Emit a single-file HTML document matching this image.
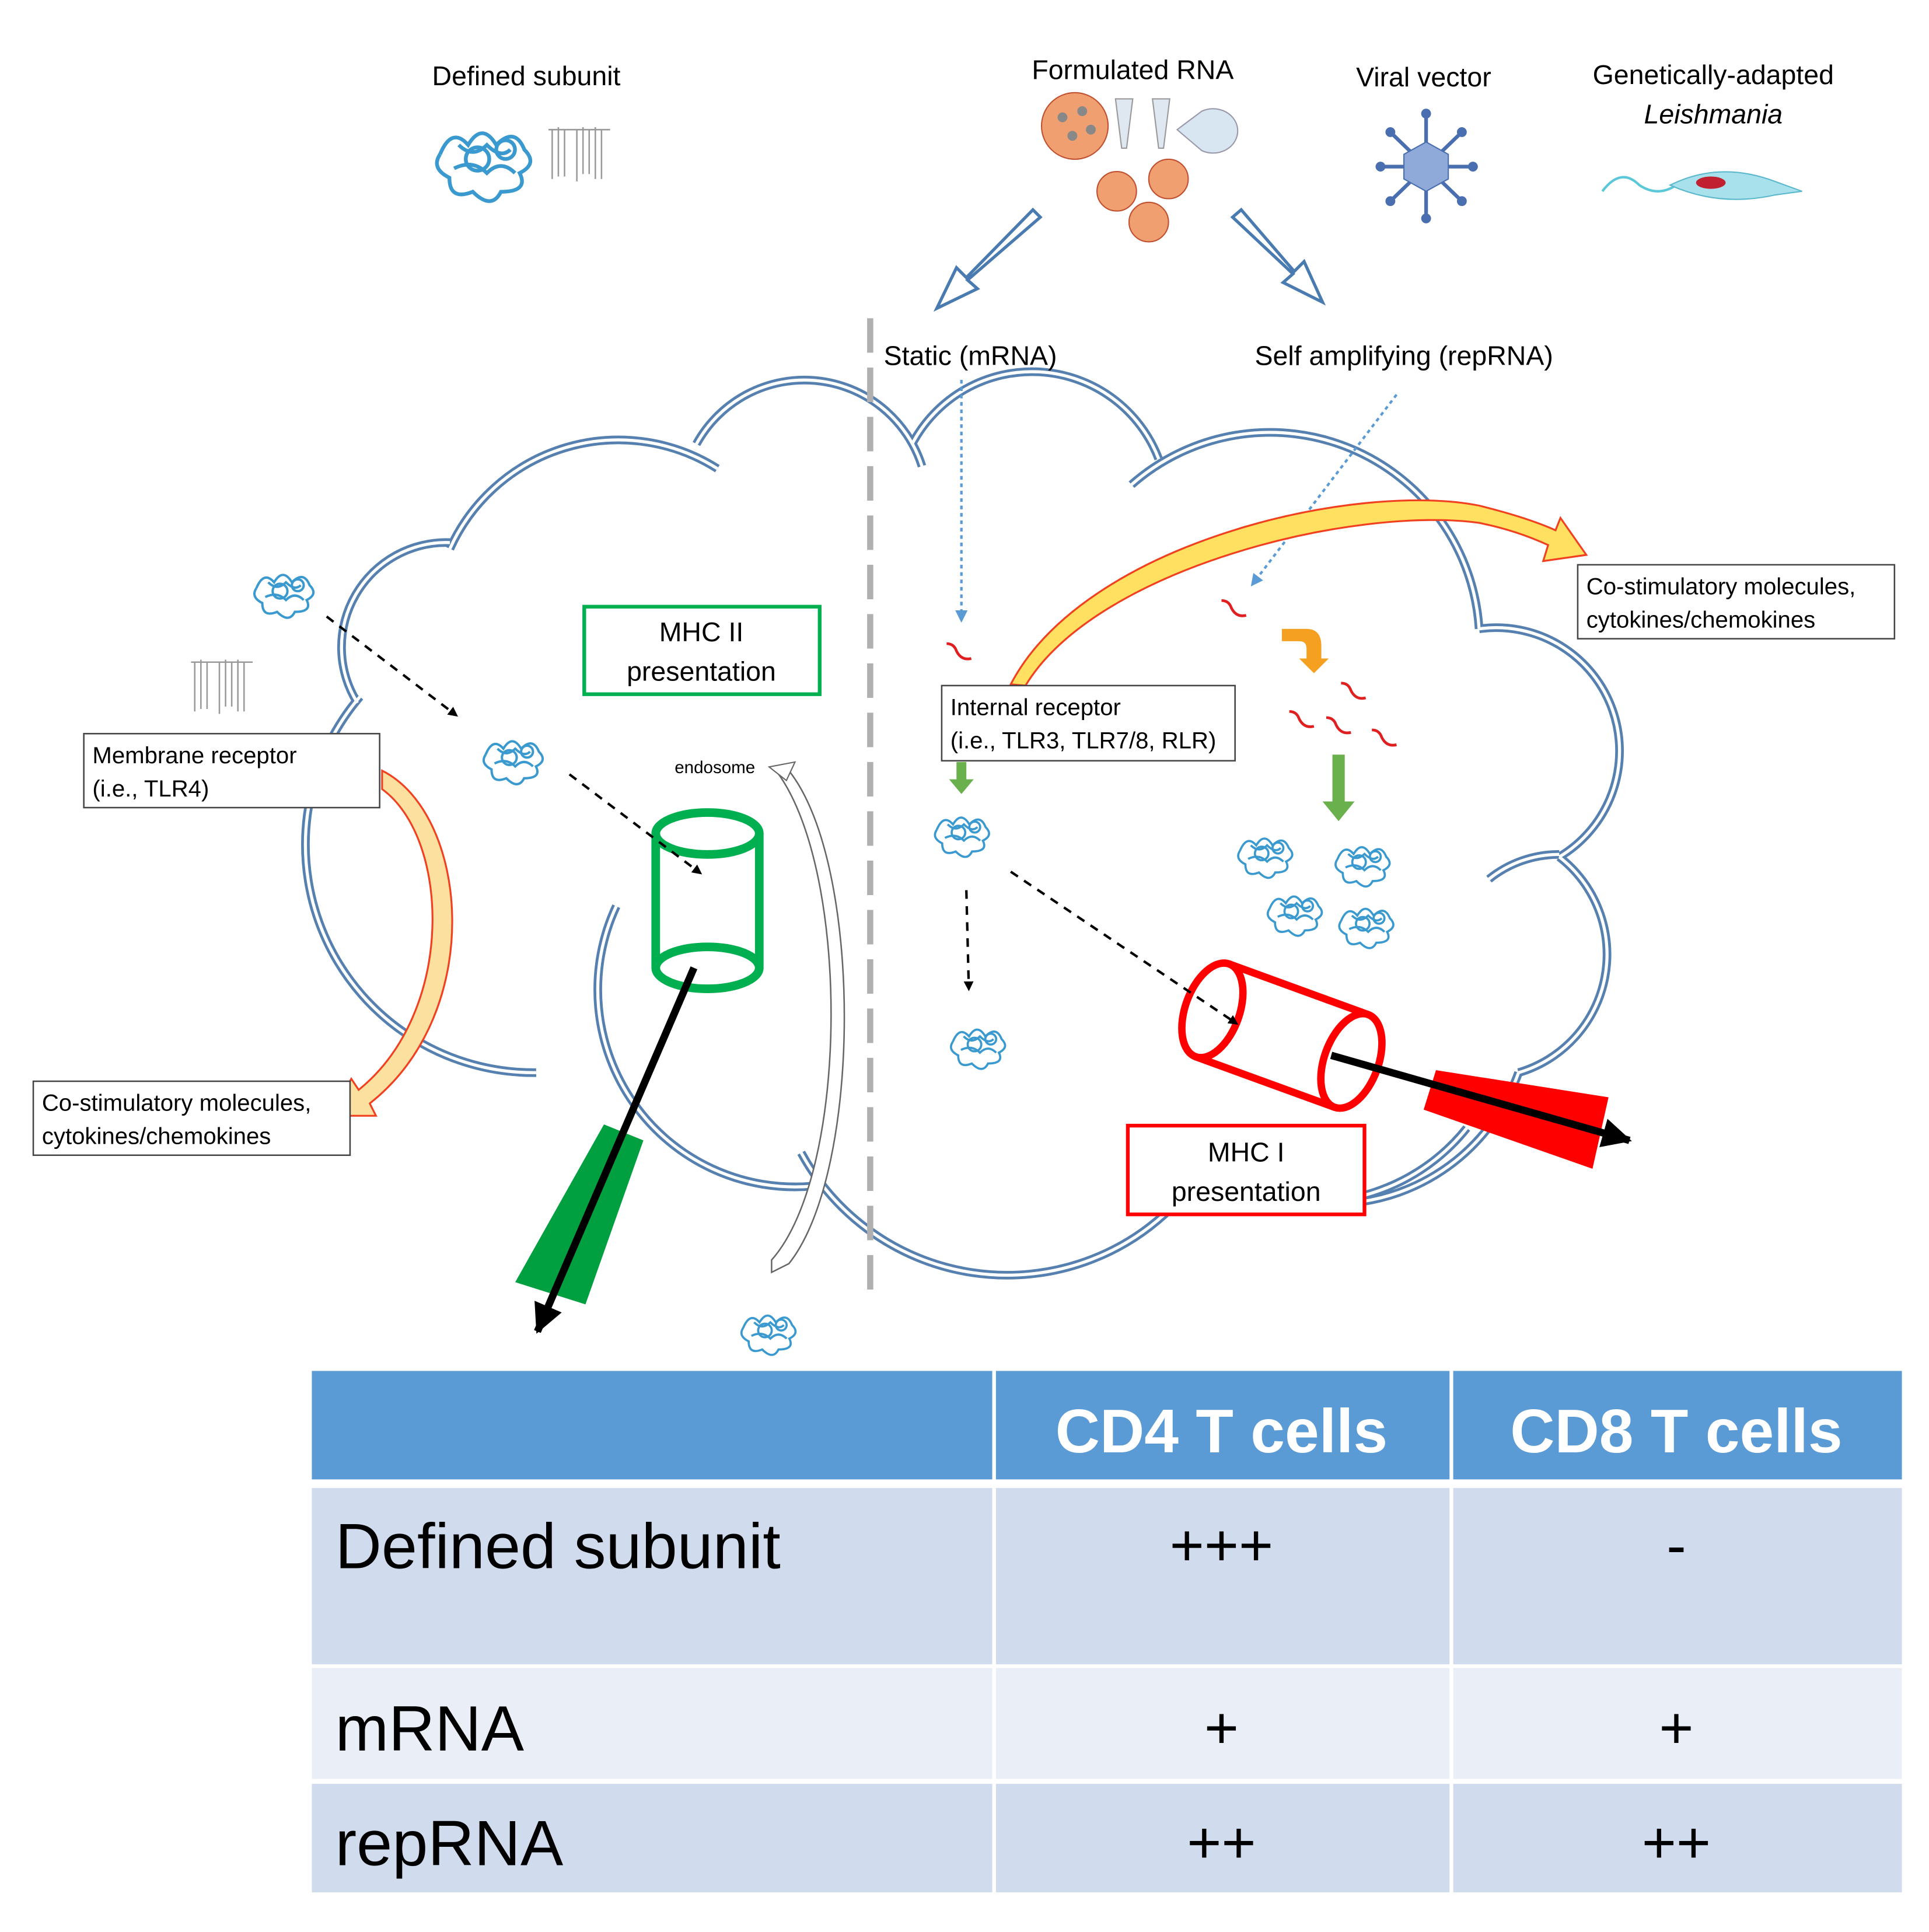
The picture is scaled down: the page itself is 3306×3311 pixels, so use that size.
<!DOCTYPE html>
<html><head><meta charset="utf-8"><style>
html,body{margin:0;padding:0;background:#fff;}
svg{display:block;}
text{font-family:"Liberation Sans",sans-serif;}
</style></head><body>
<svg width="3306" height="3311" viewBox="0 0 1565 1567" xmlns="http://www.w3.org/2000/svg">
<defs>
<marker id="ah" markerWidth="8" markerHeight="8" refX="6" refY="4" orient="auto" markerUnits="userSpaceOnUse"><path d="M0,0 L8,4 L0,8 z" fill="#000"/></marker>
<marker id="ahb" markerWidth="10" markerHeight="10" refX="8" refY="5" orient="auto" markerUnits="userSpaceOnUse"><path d="M0,0 L10,5 L0,10 z" fill="#5b9bd5"/></marker>
<marker id="big" markerWidth="30" markerHeight="30" refX="22" refY="12" orient="auto" markerUnits="userSpaceOnUse"><path d="M0,0 L24,12 L0,24 z" fill="#000"/></marker>
<g id="prot" fill="none" stroke="#3a9ad0" stroke-width="1.6">
<path d="M-20,0 q5,-12 12,-4 q6,-10 12,0 q8,-8 12,2 q6,6 -2,10 q4,8 -8,8 q-4,8 -12,0 q-10,4 -10,-6 q-8,-4 -4,-10"/>
<path d="M-12,-4 q6,6 12,0 q6,6 10,2 M-14,6 q8,-4 14,2 q6,-6 12,0"/>
<circle cx="-4" cy="2" r="5"/><circle cx="8" cy="-2" r="4"/>
</g>
<g id="lip" stroke="#999" stroke-width="1.2" fill="none">
<path d="M-25,-20 h50 M-22,-20 v40 M-12,-20 v38 M-2,-20 v42 M8,-20 v36 M18,-20 v40 M-17,-22 v40 M3,-22 v38 M13,-22 v42"/>
</g>
<g id="sq" fill="none" stroke="#e02020" stroke-width="2.2"><path d="M-12,-8 q6,0 8,6 q4,8 12,6"/></g>
</defs>

<text x="427" y="69" font-size="22" text-anchor="middle">Defined subunit</text>
<text x="919" y="64" font-size="22" text-anchor="middle">Formulated RNA</text>
<text x="1155" y="70" font-size="22" text-anchor="middle">Viral vector</text>
<text x="1390" y="68" font-size="22" text-anchor="middle">Genetically-adapted</text>
<text x="1390" y="100" font-size="22" text-anchor="middle" font-style="italic">Leishmania</text>

<use href="#prot" transform="translate(395,125) scale(1.9)"/>
<use href="#lip" transform="translate(470,125)"/>
<g fill="#f0a070" stroke="#c05030" stroke-width="1">
<circle cx="872" cy="102" r="27"/><circle cx="906" cy="155" r="16"/><circle cx="948" cy="145" r="16"/><circle cx="932" cy="180" r="16"/>
</g>
<g fill="#888"><circle cx="862" cy="95" r="4"/><circle cx="878" cy="90" r="4"/><circle cx="870" cy="110" r="4"/><circle cx="885" cy="105" r="4"/></g>
<path d="M905,80 h14 l-5,40 h-4z M935,80 h14 l-5,40 h-4z" fill="#dfe8f0" stroke="#999"/>
<path d="M955,105 l20,-15 a20,18 0 1 1 0,32z" fill="#d8e6f2" stroke="#99a"/>
<g stroke="#4a6fb0" stroke-width="3"><path d="M1157,92 v85 M1120,135 h75 M1128,107 l58,56 M1186,107 l-58,56"/></g>
<polygon points="1157,115 1175,125 1175,145 1157,155 1139,145 1139,125" fill="#8fa9d8" stroke="#4a6fb0"/>
<g fill="#4a6fb0"><circle cx="1157" cy="92" r="4"/><circle cx="1157" cy="177" r="4"/><circle cx="1120" cy="135" r="4"/><circle cx="1195" cy="135" r="4"/><circle cx="1128" cy="107" r="4"/><circle cx="1186" cy="107" r="4"/><circle cx="1128" cy="163" r="4"/><circle cx="1186" cy="163" r="4"/></g>
<path d="M1300,155 q15,-20 30,-5 q15,10 30,0" fill="none" stroke="#5ac8d8" stroke-width="2"/>
<path d="M1355,150 q40,-20 85,-3 l22,8 l-22,3 q-45,10 -85,-8z" fill="#a8e0ec" stroke="#5ab8cc"/>
<ellipse cx="1388" cy="148" rx="12" ry="5" fill="#c02030"/>

<path d="M838,170 L784,225 L776,217 L760,250 L793,234 L785,227 L844,176 z" fill="#fff" stroke="#4a7bb0" stroke-width="2.5"/>
<path d="M1007,170 L1050,220 L1058,212 L1073,245 L1041,229 L1049,222 L1000,176 z" fill="#fff" stroke="#4a7bb0" stroke-width="2.5"/>

<g fill="none" stroke-linecap="butt">
<g stroke="#5580b0" stroke-width="7">
<path d="M290,570 A85,85 0 0 1 365,440"/>
<path d="M365,445 A150,150 0 0 1 582,380"/>
<path d="M565,360 A100,100 0 0 1 748,378"/>
<path d="M740,360 A110,110 0 0 1 940,372"/>
<path d="M918,393 A170,170 0 0 1 1200,510"/>
<path d="M1200,510 A100,100 0 0 1 1265,695"/>
<path d="M1208,713 A90,90 0 0 1 1265,693"/>
<path d="M1265,695 A100,100 0 0 1 1232,870"/>
<path d="M1232,870 A160,160 0 0 1 1060,975"/>
<path d="M1190,915 A160,160 0 0 1 1060,975"/>
<path d="M950,980 A190,190 0 0 1 650,935"/>
<path d="M292,565 A185,185 0 0 0 435,870"/>
<path d="M500,735 A160,160 0 0 0 660,962"/>
</g>
<g stroke="#fff" stroke-width="2.5">
<path d="M290,570 A85,85 0 0 1 365,440"/>
<path d="M365,445 A150,150 0 0 1 582,380"/>
<path d="M565,360 A100,100 0 0 1 748,378"/>
<path d="M740,360 A110,110 0 0 1 940,372"/>
<path d="M918,393 A170,170 0 0 1 1200,510"/>
<path d="M1200,510 A100,100 0 0 1 1265,695"/>
<path d="M1208,713 A90,90 0 0 1 1265,693"/>
<path d="M1265,695 A100,100 0 0 1 1232,870"/>
<path d="M1232,870 A160,160 0 0 1 1060,975"/>
<path d="M1190,915 A160,160 0 0 1 1060,975"/>
<path d="M950,980 A190,190 0 0 1 650,935"/>
<path d="M292,565 A185,185 0 0 0 435,870"/>
<path d="M500,735 A160,160 0 0 0 660,962"/>
</g>
</g>

<line x1="706" y1="258" x2="706" y2="1058" stroke="#b0b0b0" stroke-width="5" stroke-dasharray="28,12"/>
<text x="717" y="296" font-size="22">Static (mRNA)</text>
<text x="1018" y="296" font-size="22">Self amplifying (repRNA)</text>

<line x1="780" y1="308" x2="780" y2="503" stroke="#5b9bd5" stroke-width="2" stroke-dasharray="3,3" marker-end="url(#ahb)"/>
<line x1="1133" y1="320" x2="1016" y2="474" stroke="#5b9bd5" stroke-width="2" stroke-dasharray="3,3" marker-end="url(#ahb)"/>

<path d="M820,555 C880,440 1100,390 1200,410 Q1240,420 1262,430 L1266,420 L1287,450 L1252,455 L1256,442 Q1230,430 1200,424 C1100,410 890,460 832,556 z" fill="#ffe060" stroke="#f04020" stroke-width="1.5"/>
<path d="M310,625 C380,660 395,820 300,895 L305,905 L268,905 L285,875 L291,884 C370,820 365,680 310,640 z" fill="#fbe0a0" stroke="#f04020" stroke-width="1.5"/>

<g fill="#fff" stroke="#444" stroke-width="1.2">
<rect x="68" y="595" width="240" height="60"/>
<rect x="27" y="877" width="257" height="60"/>
<rect x="1280" y="458" width="257" height="60"/>
<rect x="764" y="556" width="238" height="61"/>
</g>
<g font-size="19">
<text x="75" y="619">Membrane receptor</text><text x="75" y="646">(i.e., TLR4)</text>
<text x="34" y="901">Co-stimulatory molecules,</text><text x="34" y="928">cytokines/chemokines</text>
<text x="1287" y="482">Co-stimulatory molecules,</text><text x="1287" y="509">cytokines/chemokines</text>
<text x="771" y="580">Internal receptor</text><text x="771" y="607">(i.e., TLR3, TLR7/8, RLR)</text>
</g>

<rect x="474" y="492" width="191" height="71" fill="#fff" stroke="#00b050" stroke-width="3"/>
<text x="569" y="520" font-size="22" text-anchor="middle">MHC II</text>
<text x="569" y="552" font-size="22" text-anchor="middle">presentation</text>
<text x="580" y="627" font-size="14" text-anchor="middle">endosome</text>
<path d="M640,625 C700,700 700,950 640,1025 L626,1032 L626,1022 C690,950 690,700 628,623 z" fill="#fff" stroke="#666" stroke-width="1.2"/>
<path d="M624,622 L645,618 L638,633z" fill="#fff" stroke="#666"/>

<g fill="none" stroke="#00b050" stroke-width="7">
<ellipse cx="574" cy="676" rx="42" ry="17"/>
<ellipse cx="574" cy="785" rx="42" ry="17"/>
<line x1="532" y1="676" x2="532" y2="785"/><line x1="616" y1="676" x2="616" y2="785"/>
</g>
<polygon points="490,912 522,925 475,1058 418,1040" fill="#00a040"/>
<line x1="563" y1="785" x2="436" y2="1080" stroke="#000" stroke-width="6" marker-end="url(#big)"/>

<g transform="translate(1040,840) rotate(20)" fill="none" stroke="#ff0000" stroke-width="6">
<ellipse cx="-60" cy="0" rx="22" ry="40" fill="#fff"/>
<path d="M-60,-40 H60 M-60,40 H60"/>
<ellipse cx="60" cy="0" rx="22" ry="40" fill="#fff"/>
</g>
<polygon points="1165,868 1305,890 1292,948 1155,900" fill="#ff0000"/>
<line x1="1080" y1="856" x2="1322" y2="925" stroke="#000" stroke-width="6" marker-end="url(#big)"/>
<rect x="915" y="913" width="192" height="72" fill="#fff" stroke="#ff0000" stroke-width="3"/>
<text x="1011" y="942" font-size="22" text-anchor="middle">MHC I</text>
<text x="1011" y="974" font-size="22" text-anchor="middle">presentation</text>

<g stroke="#000" stroke-width="2" stroke-dasharray="7,6" fill="none">
<line x1="265" y1="500" x2="370" y2="580" marker-end="url(#ah)"/>
<line x1="462" y1="628" x2="568" y2="708" marker-end="url(#ah)"/>
<line x1="784" y1="722" x2="786" y2="802" marker-end="url(#ah)"/>
<line x1="820" y1="707" x2="1003" y2="830" marker-end="url(#ah)"/>
</g>

<use href="#prot" transform="translate(232,477) scale(1.2)"/>
<use href="#prot" transform="translate(418,612) scale(1.2)"/>
<use href="#prot" transform="translate(782,673) scale(1.1)"/>
<use href="#prot" transform="translate(795,845) scale(1.1)"/>
<use href="#prot" transform="translate(625,1077) scale(1.1)"/>
<use href="#prot" transform="translate(1028,690) scale(1.1)"/>
<use href="#prot" transform="translate(1107,697) scale(1.1)"/>
<use href="#prot" transform="translate(1052,737) scale(1.1)"/>
<use href="#prot" transform="translate(1110,747) scale(1.1)"/>
<use href="#lip" transform="translate(180,557)"/>

<use href="#sq" transform="translate(780,530)"/>
<use href="#sq" transform="translate(1003,495)"/>
<use href="#sq" transform="translate(1100,562)"/>
<use href="#sq" transform="translate(1058,585)"/>
<use href="#sq" transform="translate(1088,590)"/>
<use href="#sq" transform="translate(1125,600)"/>
<path d="M1040,510 h20 q12,0 12,14 v10 h6 l-12,12 l-12,-12 h6 v-8 q0,-6 -6,-6 h-14z" fill="#f5a020"/>

<path d="M776,618 h8 v14 h6 l-10,12 l-10,-12 h6z" fill="#6ab04c"/>
<path d="M1081,612 h10 v38 h8 l-13,16 l-13,-16 h8z" fill="#6ab04c"/>

<rect x="253" y="1112" width="1290" height="88" fill="#5b9bd5"/>
<rect x="253" y="1207" width="1290" height="143" fill="#d0dbed"/>
<rect x="253" y="1353" width="1290" height="90" fill="#e9eef7"/>
<rect x="253" y="1447" width="1290" height="88" fill="#d0dbed"/>
<rect x="805" y="1112" width="3" height="423" fill="#fff"/>
<rect x="1176" y="1112" width="3" height="423" fill="#fff"/>
<text x="991" y="1178" font-size="50" font-weight="bold" fill="#fff" text-anchor="middle">CD4 T cells</text>
<text x="1360" y="1178" font-size="50" font-weight="bold" fill="#fff" text-anchor="middle">CD8 T cells</text>
<text x="272" y="1272" font-size="52">Defined subunit</text>
<text x="272" y="1420" font-size="52">mRNA</text>
<text x="272" y="1513" font-size="52">repRNA</text>
<g font-size="48" text-anchor="middle">
<text x="991" y="1270">+++</text><text x="1360" y="1270">-</text>
<text x="991" y="1418">+</text><text x="1360" y="1418">+</text>
<text x="991" y="1511">++</text><text x="1360" y="1511">++</text>
</g>
</svg>
</body></html>
